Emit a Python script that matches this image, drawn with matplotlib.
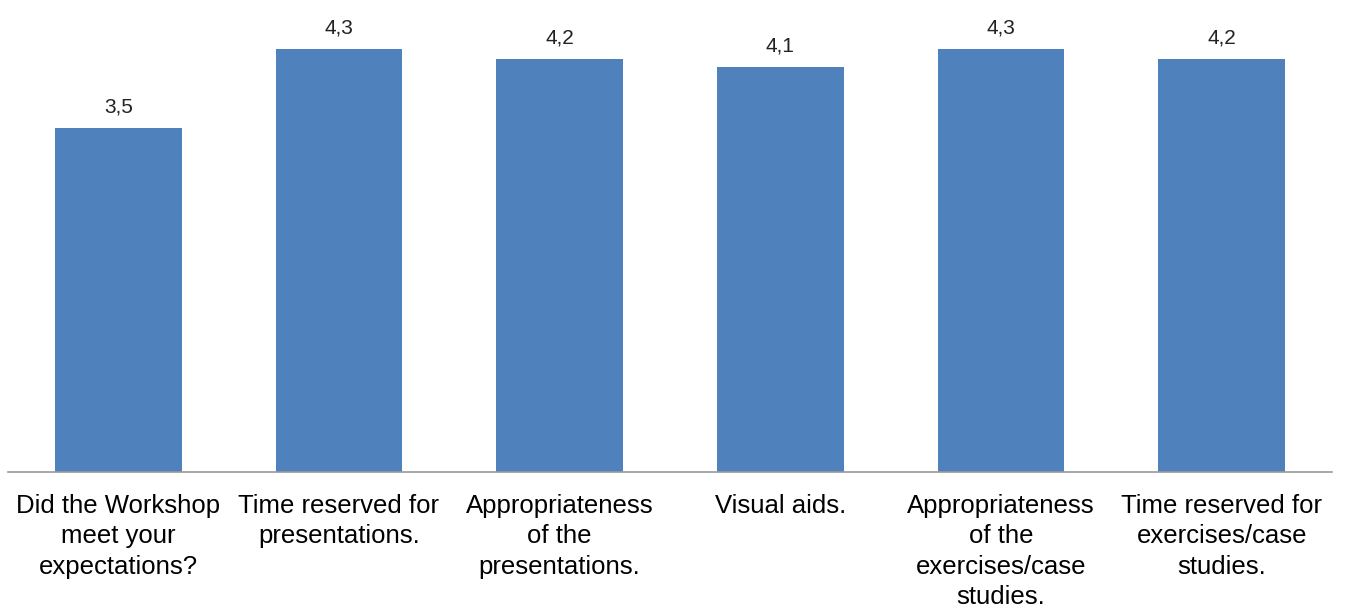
import matplotlib.pyplot as plt
import numpy as np

categories = [
    "Did the Workshop\nmeet your\nexpectations?",
    "Time reserved for\npresentations.",
    "Appropriateness\nof the\npresentations.",
    "Visual aids.",
    "Appropriateness\nof the\nexercises/case\nstudies.",
    "Time reserved for\nexercises/case\nstudies.",
]
values = [3.5, 4.3, 4.2, 4.12, 4.3, 4.2]
value_labels = ["3,5", "4,3", "4,2", "4,1", "4,3", "4,2"]

plt.rcParams['font.family'] = ['Liberation Sans', 'DejaVu Sans']

fig = plt.figure(figsize=(13.46, 6.04), dpi=100)
ax = fig.add_axes([8 / 1346, 132 / 604, 1324 / 1346, 472 / 604])

x = np.arange(len(values))
bars = ax.bar(x, values, width=0.575, color="#4F81BD")

for xi, v, lab in zip(x, values, value_labels):
    ax.text(xi, v + 0.12, lab, ha="center", va="bottom", fontsize=15, color="#222222")

ax.set_xlim(-0.5, len(values) - 0.5)
ax.set_ylim(0, 4.8)
ax.set_yticks([])
ax.set_xticks(x)
ax.set_xticklabels(categories, fontsize=18.5, linespacing=1.33, va="top")
ax.tick_params(axis="x", length=0, pad=16)

for side in ["top", "left", "right"]:
    ax.spines[side].set_visible(False)
ax.spines["bottom"].set_color("#9a9a9a")
ax.spines["bottom"].set_linewidth(1.2)

fig.savefig("out.png", dpi=100)
